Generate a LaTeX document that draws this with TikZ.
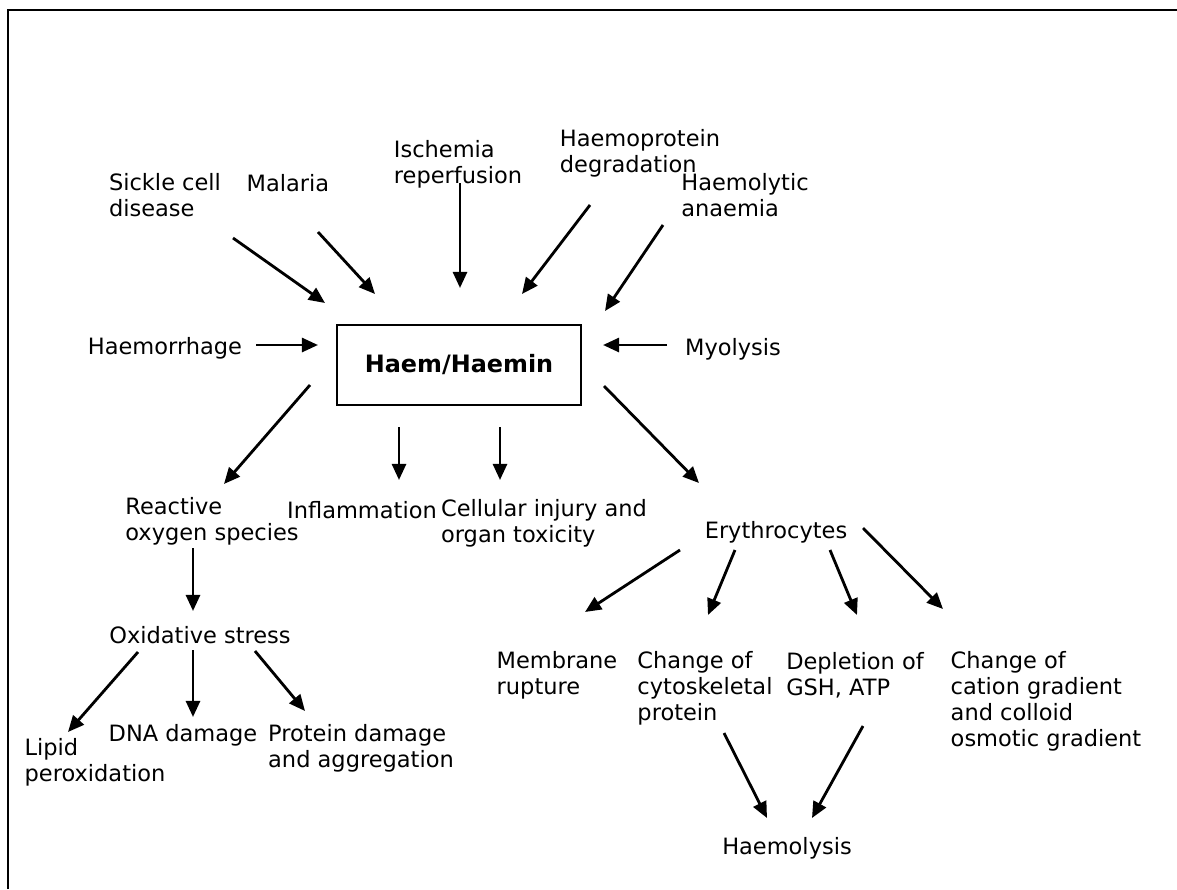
\documentclass[tikz,border=0pt]{standalone}
\usepackage{fontspec}
\setmainfont{DejaVu Sans}
\usetikzlibrary{arrows.meta,calc}

\begin{document}
\begin{tikzpicture}[
  x=0.025cm, y=-0.025cm,
  font=\fontsize{16}{18.5}\selectfont,
  >={Triangle[length=11.5pt,width=10pt]},
  lbl/.style={align=left, inner sep=0pt},
  arr/.style={->, line width=2pt},
  haembox/.style={draw, line width=1.3pt, minimum width=6.1cm, minimum height=2cm, font=\fontsize{17}{19}\selectfont\bfseries}
]
  \useasboundingbox (0,0) rectangle (1177,889);
  \draw[line width=1.4pt] (8,889) -- (8,10) -- (1177,10);

  % causes
  \node[lbl] (sickle) at (165,195) {Sickle cell\\disease};
  \node[lbl] (malaria) at (288,183) {Malaria};
  \node[lbl] (isch) at (458,164) {Ischemia\\reperfusion};
  \node[lbl] (hprot) at (640,153) {Haemoprotein\\degradation};
  \node[lbl] (hlytic) at (745,195) {Haemolytic\\anaemia};
  \node[lbl] (hmorr) at (165,348) {Haemorrhage};
  \node[lbl] (myol) at (733,349) {Myolysis};
  \node[haembox] (haem) at (459,365) {Haem/Haemin};

  % effects
  \node[lbl] (ros) at (212,521) {Reactive\\oxygen species};
  \node[lbl] (infl) at (362,510) {Inflammation};
  \node[lbl] (cell) at (544,523) {Cellular injury and\\organ toxicity};
  \node[lbl] (eryth) at (776,532) {Erythrocytes};
  \node[lbl] (oxs) at (200,635) {Oxidative stress};
  \node[lbl] (lipid) at (95,762) {Lipid\\peroxidation};
  \node[lbl] (dna) at (183,735) {DNA damage};
  \node[lbl] (prot) at (361,748) {Protein damage\\and aggregation};
  \node[lbl] (memb) at (557,675) {Membrane\\rupture};
  \node[lbl] (cyto) at (705,688) {Change of\\cytoskeletal\\protein};
  \node[lbl] (depl) at (855,675) {Depletion of\\GSH, ATP};
  \node[lbl] (cation) at (1046,701) {Change of\\cation gradient\\and colloid\\osmotic gradient};
  \node[lbl] (hlysis) at (787,848) {Haemolysis};

  \draw[arr] ($(sickle)+(68,43)$) -- ($(haem)+(-134,-62)$);
  \draw[arr] ($(malaria)+(30,49)$) -- ($(haem)+(-84,-71)$);
  \draw[arr] ($(isch)+(2,19)$) -- ($(haem)+(1,-77)$);
  \draw[arr] ($(hprot)+(-50,52)$) -- ($(haem)+(63,-71)$);
  \draw[arr] ($(hlytic)+(-82,30)$) -- ($(haem)+(146,-54)$);
  \draw[arr] ($(hmorr)+(91,-3)$) -- ($(haem)+(-141,-20)$);
  \draw[arr] ($(myol)+(-66,-4)$) -- ($(haem)+(144,-20)$);

  \draw[arr] ($(haem)+(-149,20)$) -- ($(ros)+(12,-37)$);
  \draw[arr] ($(haem)+(-60,62)$) -- ($(infl)+(37,-30)$);
  \draw[arr] ($(haem)+(41,62)$) -- ($(cell)+(-44,-43)$);
  \draw[arr] ($(haem)+(145,21)$) -- ($(eryth)+(-77,-49)$);

  \draw[arr] ($(ros)+(-19,27)$) -- ($(oxs)+(-7,-24)$);
  \draw[arr] ($(oxs)+(-62,17)$) -- ($(lipid)+(-27,-30)$);
  \draw[arr] ($(oxs)+(-7,15)$) -- ($(dna)+(10,-18)$);
  \draw[arr] ($(oxs)+(55,16)$) -- ($(prot)+(-56,-37)$);

  \draw[arr] ($(eryth)+(-96,18)$) -- ($(memb)+(28,-63)$);
  \draw[arr] ($(eryth)+(-41,18)$) -- ($(cyto)+(3,-73)$);
  \draw[arr] ($(eryth)+(54,18)$) -- ($(depl)+(2,-60)$);
  \draw[arr] ($(eryth)+(87,-4)$) -- ($(cation)+(-103,-92)$);
  \draw[arr] ($(cyto)+(19,45)$) -- ($(hlysis)+(-20,-30)$);
  \draw[arr] ($(depl)+(8,51)$) -- ($(hlysis)+(25,-30)$);
\end{tikzpicture}
\end{document}
